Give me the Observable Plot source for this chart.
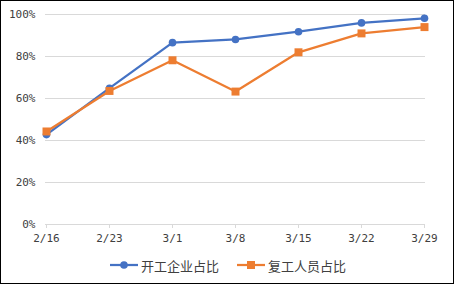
<!DOCTYPE html>
<html>
<head>
<meta charset="utf-8">
<script src="https://cdn.jsdelivr.net/npm/d3@7"></script>
<script src="https://cdn.jsdelivr.net/npm/@observablehq/plot@0.6"></script>
<style>
  html, body { margin: 0; padding: 0; background: #fff; }
  #wrap { position: relative; width: 454px; height: 284px; overflow: hidden; background: #fff; }
  #chart { position: absolute; left: 0; top: 0; }
  #frame { position: absolute; left: 0; top: 0; width: 454px; height: 284px; box-sizing: border-box; border: 1px solid #000; pointer-events: none; }
  #legend { position: absolute; left: 0; top: 255px; width: 454px; height: 20px; font-family: "Noto Sans CJK SC", sans-serif; font-size: 13px; color: #404040; }
  .item { position: absolute; top: 0; height: 20px; display: flex; align-items: center; }
  .item svg { margin-right: 3px; }
</style>
</head>
<body>
<div id="wrap">
  <div id="chart"></div>
  <div id="legend"></div>
  <div id="frame"></div>
</div>
<script>
const dates = ["2/16", "2/23", "3/1", "3/8", "3/15", "3/22", "3/29"];
const enterprise = [42.8, 64.9, 86.6, 88.1, 91.8, 96.0, 98.2];
const workers = [44.3, 63.6, 78.2, 63.3, 82.0, 91.0, 94.0];
const yTicks = [0, 20, 40, 60, 80, 100];
const seriesNames = ["开工企业占比", "复工人员占比"];
const colors = ["#4472C4", "#ED7D31"];

const rowsA = dates.map((d, i) => ({date: d, value: enterprise[i]}));
const rowsB = dates.map((d, i) => ({date: d, value: workers[i]}));

const tickFont = "DejaVu Sans Mono, monospace";

const chart = Plot.plot({
  width: 454,
  height: 250,
  marginLeft: 45,
  marginRight: 29,
  marginTop: 14,
  marginBottom: 26,
  style: {background: "transparent", fontFamily: tickFont, fontSize: "11px", color: "#404040"},
  x: {type: "point", domain: dates, padding: 0, label: null},
  y: {domain: [0, 100], label: null},
  marks: [
    Plot.ruleY(yTicks, {stroke: "#d9d9d9", strokeWidth: 1}),
    Plot.axisX({tickSize: 4, tickPadding: 6, stroke: "#d9d9d9", fill: "#404040", label: null, fontSize: 11}),
    Plot.axisY({ticks: yTicks, tickSize: 0, tickPadding: 10, tickFormat: d => d + "%", label: null, fill: "#404040", fontSize: 11}),
    Plot.line(rowsA, {x: "date", y: "value", stroke: colors[0], strokeWidth: 2.25}),
    Plot.line(rowsB, {x: "date", y: "value", stroke: colors[1], strokeWidth: 2.25}),
    Plot.dot(rowsA, {x: "date", y: "value", r: 3.8, fill: colors[0], stroke: "none"}),
    Plot.dot(rowsB, {x: "date", y: "value", r: 4.5, symbol: "square", fill: colors[1], stroke: "none"})
  ]
});
document.getElementById("chart").appendChild(chart);

// legend
const legend = document.getElementById("legend");
const lefts = [110, 237];
seriesNames.forEach((name, i) => {
  const item = document.createElement("div");
  item.className = "item";
  item.style.left = lefts[i] + "px";
  const sym = i === 0
    ? `<circle cx="14" cy="10" r="3.8" fill="${colors[i]}"/>`
    : `<rect x="10" y="6" width="8" height="8" fill="${colors[i]}"/>`;
  item.innerHTML = `<svg width="28" height="20"><line x1="0" x2="28" y1="10" y2="10" stroke="${colors[i]}" stroke-width="2.25"/>${sym}</svg><span>${name}</span>`;
  legend.appendChild(item);
});
</script>
</body>
</html>
